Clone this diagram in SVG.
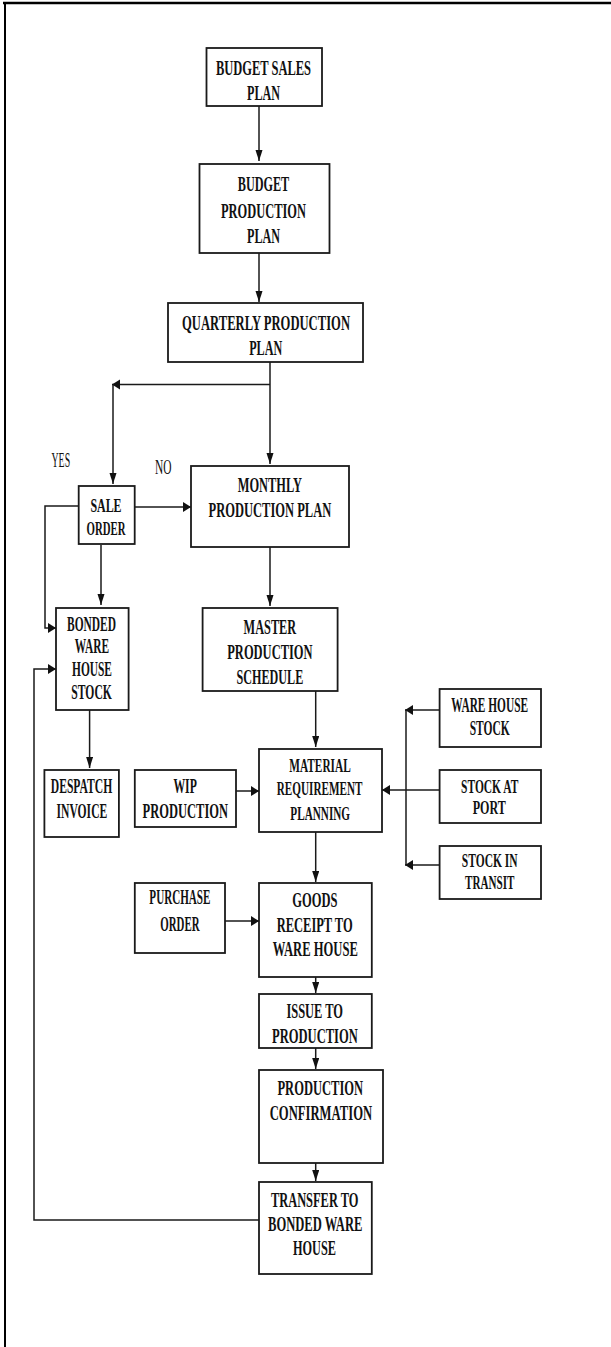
<svg xmlns="http://www.w3.org/2000/svg" width="611" height="1347" viewBox="0 0 611 1347">
<style>
  .box { fill: #ffffff; stroke: #1a1a1a; stroke-width: 1.8; }
  .t { font-family: "Liberation Serif", "Times New Roman", serif; font-weight: bold; font-size: 21.5px; fill: #111; text-anchor: middle; }
  .s { font-size: 19.5px; }
  .xs { font-size: 18.5px; }
  .lbl { font-family: "Liberation Serif", "Times New Roman", serif; font-size: 21.5px; fill: #111; text-anchor: middle; }
  .c { fill: none; stroke: #1a1a1a; stroke-width: 1.5; }
  .cv { marker-end: url(#av); }
  .ch { marker-end: url(#ah); }
</style>
<defs>
  <marker id="av" markerUnits="userSpaceOnUse" markerWidth="12" markerHeight="8" refX="11" refY="3.5" orient="auto">
    <path d="M0,0 L11,3.5 L0,7 z" fill="#111"/>
  </marker>
  <marker id="ah" markerUnits="userSpaceOnUse" markerWidth="9" markerHeight="11" refX="8" refY="5" orient="auto">
    <path d="M0,0 L8,5 L0,10 z" fill="#111"/>
  </marker>
</defs>
<rect x="0" y="0" width="611" height="1347" fill="#ffffff"/>
<g id="frame">
  <line x1="3" y1="3" x2="611" y2="3" stroke="#000" stroke-width="2.5"/>
  <line x1="5" y1="2" x2="5" y2="1347" stroke="#000" stroke-width="2"/>
</g>
<g id="connectors">
  <path class="c cv" d="M259,100 V161"/>
  <path class="c cv" d="M259,244 V302"/>
  <path class="c cv" d="M270,362 V464"/>
  <path class="c ch" d="M270,384.5 H112"/>
  <path class="c cv" d="M113,384.5 V484"/>
  <path class="c ch" d="M135,507 H191"/>
  <path class="c ch" d="M79,506 H45 V628 H56"/>
  <path class="c cv" d="M101,545 V605"/>
  <path class="c cv" d="M89.6,710 V768"/>
  <path class="c cv" d="M270,547 V606"/>
  <path class="c cv" d="M315.7,688 V747"/>
  <path class="c ch" d="M439.6,710 H405"/>
  <path class="c" d="M406,710 V865"/>
  <path class="c ch" d="M439.6,790 H382"/>
  <path class="c ch" d="M439.6,865 H405"/>
  <path class="c ch" d="M236,791 H259"/>
  <path class="c cv" d="M315.7,827 V882"/>
  <path class="c ch" d="M225,921 H259"/>
  <path class="c cv" d="M315.7,977 V993"/>
  <path class="c cv" d="M315.7,1048 V1069"/>
  <path class="c cv" d="M315.7,1163 V1181"/>
  <path class="c ch" d="M259,1220 H34 V669 H56"/>
</g>
<g id="labels">
  <text class="lbl" x="60.8" y="467" font-size="16.5" textLength="18.7" lengthAdjust="spacingAndGlyphs">YES</text>
  <text class="lbl" x="163.3" y="474" textLength="16.5" lengthAdjust="spacingAndGlyphs">NO</text>
</g>
<g id="budget_sales_plan">
  <rect class="box" x="206.5" y="48" width="115.5" height="58"/>
  <text class="t" x="263.5" y="75" textLength="95" lengthAdjust="spacingAndGlyphs">BUDGET SALES</text>
  <text class="t" x="263.6" y="100" textLength="33" lengthAdjust="spacingAndGlyphs">PLAN</text>
</g>
<g id="budget_production_plan">
  <rect class="box" x="199.5" y="164" width="130" height="89"/>
  <text class="t" x="263.5" y="190.7" textLength="51.5" lengthAdjust="spacingAndGlyphs">BUDGET</text>
  <text class="t" x="263.5" y="218" textLength="85" lengthAdjust="spacingAndGlyphs">PRODUCTION</text>
  <text class="t" x="263.5" y="243" textLength="33" lengthAdjust="spacingAndGlyphs">PLAN</text>
</g>
<g id="quarterly_production_plan">
  <rect class="box" x="168" y="303" width="195" height="59"/>
  <text class="t" x="266" y="330" textLength="168" lengthAdjust="spacingAndGlyphs">QUARTERLY PRODUCTION</text>
  <text class="t" x="265.7" y="355" textLength="33" lengthAdjust="spacingAndGlyphs">PLAN</text>
</g>
<g id="sale_order">
  <rect class="box" x="78.7" y="486" width="56" height="58"/>
  <text class="t s" x="106" y="512.3" textLength="31.2" lengthAdjust="spacingAndGlyphs">SALE</text>
  <text class="t s" x="106" y="534.5" textLength="39" lengthAdjust="spacingAndGlyphs">ORDER</text>
</g>
<g id="monthly_production_plan">
  <rect class="box" x="191" y="466" width="158" height="81"/>
  <text class="t" x="269.9" y="491.7" textLength="64.3" lengthAdjust="spacingAndGlyphs">MONTHLY</text>
  <text class="t" x="269.9" y="516.7" textLength="122.8" lengthAdjust="spacingAndGlyphs">PRODUCTION PLAN</text>
</g>
<g id="bonded_ware_house_stock">
  <rect class="box" x="56" y="608" width="72.6" height="102"/>
  <text class="t" x="91.5" y="630.7" textLength="49" lengthAdjust="spacingAndGlyphs">BONDED</text>
  <text class="t" x="91.9" y="653" textLength="34.2" lengthAdjust="spacingAndGlyphs">WARE</text>
  <text class="t" x="92" y="676" textLength="40" lengthAdjust="spacingAndGlyphs">HOUSE</text>
  <text class="t" x="91.6" y="699" textLength="40.5" lengthAdjust="spacingAndGlyphs">STOCK</text>
</g>
<g id="master_production_schedule">
  <rect class="box" x="202.6" y="608" width="135" height="83"/>
  <text class="t" x="269.9" y="634" textLength="52.6" lengthAdjust="spacingAndGlyphs">MASTER</text>
  <text class="t" x="269.9" y="659" textLength="85.3" lengthAdjust="spacingAndGlyphs">PRODUCTION</text>
  <text class="t" x="269.9" y="684" textLength="66.7" lengthAdjust="spacingAndGlyphs">SCHEDULE</text>
</g>
<g id="ware_house_stock">
  <rect class="box" x="439.6" y="689" width="101.4" height="58"/>
  <text class="t" x="489.7" y="711.7" textLength="76.7" lengthAdjust="spacingAndGlyphs">WARE HOUSE</text>
  <text class="t" x="489.7" y="735" textLength="40" lengthAdjust="spacingAndGlyphs">STOCK</text>
</g>
<g id="material_requirement_planning">
  <rect class="box" x="259" y="749" width="123" height="83"/>
  <text class="t s" x="320" y="772" textLength="61.5" lengthAdjust="spacingAndGlyphs">MATERIAL</text>
  <text class="t s" x="319.6" y="794.5" textLength="85.7" lengthAdjust="spacingAndGlyphs">REQUIREMENT</text>
  <text class="t s" x="320.2" y="820" textLength="59.7" lengthAdjust="spacingAndGlyphs">PLANNING</text>
</g>
<g id="despatch_invoice">
  <rect class="box" x="44.4" y="770" width="74.5" height="67"/>
  <text class="t" x="81.5" y="792.7" textLength="61.5" lengthAdjust="spacingAndGlyphs">DESPATCH</text>
  <text class="t" x="81.9" y="818" textLength="50.7" lengthAdjust="spacingAndGlyphs">INVOICE</text>
</g>
<g id="wip_production">
  <rect class="box" x="134.8" y="770" width="101.2" height="57"/>
  <text class="t" x="185.1" y="793" textLength="23.4" lengthAdjust="spacingAndGlyphs">WIP</text>
  <text class="t" x="185.3" y="818" textLength="85.4" lengthAdjust="spacingAndGlyphs">PRODUCTION</text>
</g>
<g id="stock_at_port">
  <rect class="box" x="439.6" y="770" width="101.4" height="53"/>
  <text class="t xs" x="489.7" y="792.5" textLength="57.3" lengthAdjust="spacingAndGlyphs">STOCK AT</text>
  <text class="t xs" x="489.3" y="813.5" textLength="33.1" lengthAdjust="spacingAndGlyphs">PORT</text>
</g>
<g id="stock_in_transit">
  <rect class="box" x="439.6" y="846" width="101.4" height="53"/>
  <text class="t s" x="489.7" y="866.5" textLength="55.7" lengthAdjust="spacingAndGlyphs">STOCK IN</text>
  <text class="t s" x="489.7" y="888.5" textLength="49.4" lengthAdjust="spacingAndGlyphs">TRANSIT</text>
</g>
<g id="purchase_order">
  <rect class="box" x="134.8" y="883" width="90.2" height="70"/>
  <text class="t" x="179.9" y="904" textLength="61.1" lengthAdjust="spacingAndGlyphs">PURCHASE</text>
  <text class="t" x="179.9" y="931" textLength="39.3" lengthAdjust="spacingAndGlyphs">ORDER</text>
</g>
<g id="goods_receipt_to_ware_house">
  <rect class="box" x="259" y="883" width="112.8" height="94"/>
  <text class="t" x="314.9" y="907" textLength="45.2" lengthAdjust="spacingAndGlyphs">GOODS</text>
  <text class="t" x="314.7" y="931.7" textLength="76" lengthAdjust="spacingAndGlyphs">RECEIPT TO</text>
  <text class="t" x="315.3" y="956" textLength="85" lengthAdjust="spacingAndGlyphs">WARE HOUSE</text>
</g>
<g id="issue_to_production">
  <rect class="box" x="259" y="994" width="112.8" height="54"/>
  <text class="t" x="314.7" y="1018" textLength="56.6" lengthAdjust="spacingAndGlyphs">ISSUE TO</text>
  <text class="t" x="314.9" y="1043" textLength="85.8" lengthAdjust="spacingAndGlyphs">PRODUCTION</text>
</g>
<g id="production_confirmation">
  <rect class="box" x="259" y="1070" width="124" height="93"/>
  <text class="t" x="320.3" y="1095" textLength="85.7" lengthAdjust="spacingAndGlyphs">PRODUCTION</text>
  <text class="t" x="320.9" y="1120" textLength="102.5" lengthAdjust="spacingAndGlyphs">CONFIRMATION</text>
</g>
<g id="transfer_to_bonded_ware_house">
  <rect class="box" x="259" y="1182" width="112.8" height="92"/>
  <text class="t" x="314.7" y="1206.7" textLength="87.6" lengthAdjust="spacingAndGlyphs">TRANSFER TO</text>
  <text class="t" x="315.2" y="1231" textLength="94.4" lengthAdjust="spacingAndGlyphs">BONDED WARE</text>
  <text class="t" x="314.5" y="1255" textLength="43" lengthAdjust="spacingAndGlyphs">HOUSE</text>
</g>
</svg>
